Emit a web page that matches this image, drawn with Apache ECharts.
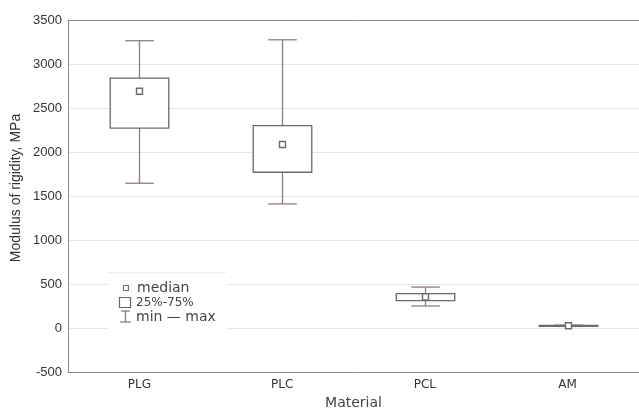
<!DOCTYPE html>
<html>
<head>
<meta charset="utf-8">
<style>
html, body { margin: 0; padding: 0; background: #fff; }
#chart { width: 639px; height: 415px; }
</style>
<script src="https://cdn.jsdelivr.net/npm/echarts@6/dist/echarts.min.js"></script>
</head>
<body>
<div id="chart"></div>
<script>
// materials on the x axis
var materials = ['PLG', 'PLC', 'PCL', 'AM'];
// box statistics per material, MPa
var minVals    = [1645, 1410, 250, 18];
var q1Vals     = [2272, 1770, 310, 20];
var medianVals = [2690, 2085, 354, 25];
var q3Vals     = [2840, 2300, 390, 30];
var maxVals    = [3265, 3275, 465, 32];
var yTicks = { min: -500, max: 3500, step: 500 };

var lineCol = '#6a6a6a';
var whiskCol = '#8c7e7e';

var boxData = materials.map(function (m, i) {
    return [i, minVals[i], q1Vals[i], medianVals[i], q3Vals[i], maxVals[i]];
});

function renderBox(params, api) {
    var i = api.value(0);
    var band = api.size([1, 0])[0];
    var half = band * 0.205;
    var capHalf = band * 0.1;
    var pMin = api.coord([i, api.value(1)]);
    var pQ1 = api.coord([i, api.value(2)]);
    var pMed = api.coord([i, api.value(3)]);
    var pQ3 = api.coord([i, api.value(4)]);
    var pMax = api.coord([i, api.value(5)]);
    var x = Math.round(pMed[0]) + 0.5;
    return {
        type: 'group',
        children: [
            { type: 'line', shape: { x1: x, y1: pMin[1], x2: x, y2: pMax[1] },
              style: { stroke: whiskCol, lineWidth: 1.3 } },
            { type: 'line', shape: { x1: x - capHalf, y1: pMin[1], x2: x + capHalf, y2: pMin[1] },
              style: { stroke: whiskCol, lineWidth: 1.3 } },
            { type: 'line', shape: { x1: x - capHalf, y1: pMax[1], x2: x + capHalf, y2: pMax[1] },
              style: { stroke: whiskCol, lineWidth: 1.3 } },
            { type: 'rect', shape: { x: x - half, y: pQ3[1], width: half * 2, height: Math.max(pQ1[1] - pQ3[1], 1) },
              style: { fill: '#fff', stroke: lineCol, lineWidth: 1.3 } },
            { type: 'rect', shape: { x: x - 3, y: pMed[1] - 3, width: 6, height: 6 },
              style: { fill: '#fff', stroke: lineCol, lineWidth: 1.4 } }
        ]
    };
}

var chart = echarts.init(document.getElementById('chart'));
chart.setOption({
    animation: false,
    grid: { left: 68, right: 0, top: 20, bottom: 40 },
    xAxis: [{
        type: 'category',
        data: materials,
        name: 'Material',
        nameLocation: 'middle',
        nameGap: 24,
        nameTextStyle: { fontFamily: 'DejaVu Sans', fontSize: 14, color: '#444' },
        axisLine: { onZero: false, lineStyle: { color: '#8a8a8a' } },
        axisTick: { inside: true, alignWithLabel: true, length: 3, lineStyle: { color: '#666' } },
        axisLabel: { fontFamily: 'DejaVu Sans', fontSize: 12, color: '#333', margin: 7 },
        splitLine: { show: false }
    }, {
        type: 'category',
        data: materials,
        position: 'top',
        axisLine: { onZero: false, lineStyle: { color: '#8a8a8a' } },
        axisTick: { inside: true, alignWithLabel: true, length: 3, lineStyle: { color: '#666' } },
        axisLabel: { show: false }
    }],
    yAxis: {
        type: 'value',
        min: yTicks.min,
        max: yTicks.max,
        interval: yTicks.step,
        axisLine: { show: true, lineStyle: { color: '#8a8a8a' } },
        axisTick: { show: false },
        axisLabel: { fontFamily: 'Liberation Sans', fontSize: 13, color: '#333', margin: 6,
                     formatter: function (v) { return String(v); } },
        splitLine: { lineStyle: { color: '#e6e6e6' } }
    },
    series: [{
        type: 'custom',
        renderItem: renderBox,
        encode: { x: 0, y: [1, 2, 3, 4, 5] },
        data: boxData
    }],
    graphic: [
        { type: 'text', x: 16, y: 188, rotation: Math.PI / 2,
          style: { text: 'Modulus of rigidity, MPa', fontFamily: 'Liberation Sans', fontSize: 14,
                   fill: '#333', align: 'center', verticalAlign: 'middle' } },
        { type: 'rect', shape: { x: 108, y: 272, width: 118, height: 57 },
          style: { fill: '#fff', stroke: null }, z: 10 },
        { type: 'line', shape: { x1: 108, y1: 272.5, x2: 226, y2: 272.5 },
          style: { stroke: '#ececec', lineWidth: 1 }, z: 11 },
        { type: 'rect', shape: { x: 123.5, y: 285.5, width: 5, height: 5 },
          style: { fill: '#fff', stroke: '#777', lineWidth: 1.2 }, z: 11 },
        { type: 'text', x: 137, y: 288, z: 11,
          style: { text: 'median', fontFamily: 'DejaVu Sans', fontSize: 14, fill: '#444', verticalAlign: 'middle' } },
        { type: 'rect', shape: { x: 119.5, y: 297.5, width: 11, height: 10 },
          style: { fill: '#fff', stroke: '#666', lineWidth: 1.2 }, z: 11 },
        { type: 'text', x: 136, y: 303, z: 11,
          style: { text: '25%-75%', fontFamily: 'DejaVu Sans', fontSize: 12, fill: '#444', verticalAlign: 'middle' } },
        { type: 'line', shape: { x1: 125.5, y1: 311, x2: 125.5, y2: 322 },
          style: { stroke: whiskCol, lineWidth: 1.3 }, z: 11 },
        { type: 'line', shape: { x1: 121, y1: 311, x2: 130, y2: 311 },
          style: { stroke: whiskCol, lineWidth: 1.3 }, z: 11 },
        { type: 'line', shape: { x1: 120, y1: 322, x2: 131, y2: 322 },
          style: { stroke: whiskCol, lineWidth: 1.3 }, z: 11 },
        { type: 'text', x: 136, y: 317, z: 11,
          style: { text: 'min — max', fontFamily: 'DejaVu Sans', fontSize: 14, fill: '#444', verticalAlign: 'middle' } }
    ]
});
</script>
</body>
</html>
